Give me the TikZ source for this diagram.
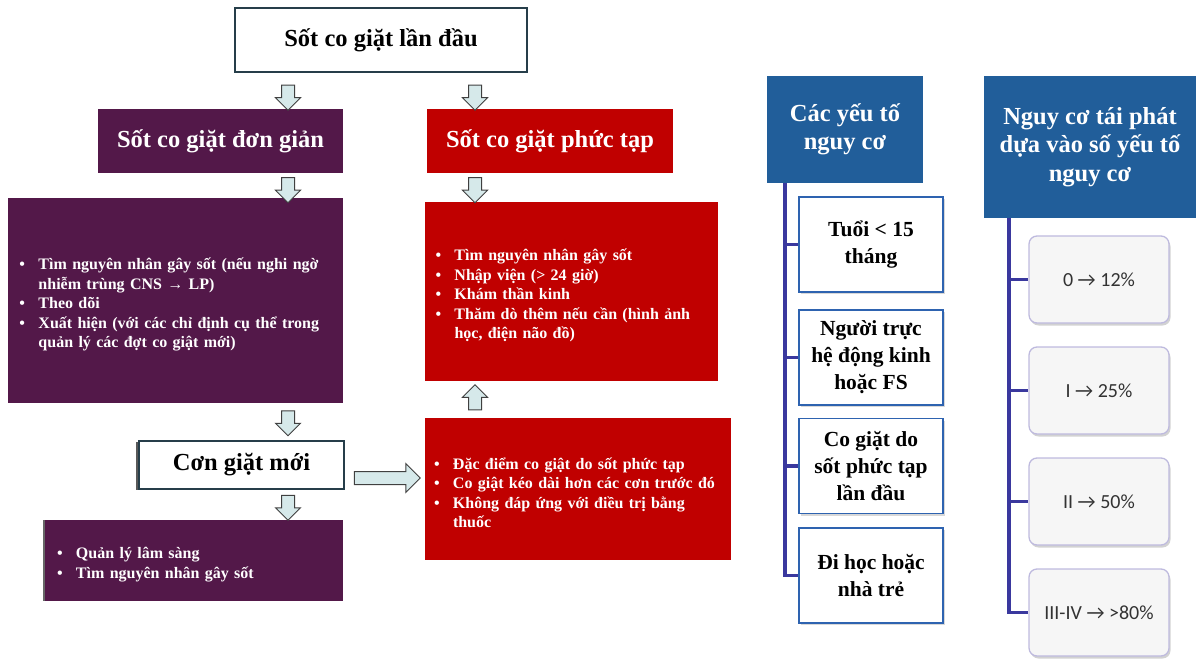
\documentclass[tikz,border=0pt]{standalone}
\usepackage{fontspec}
\setmainfont{Liberation Serif}
\newfontfamily\carlito{Carlito}
\usetikzlibrary{positioning,calc,shapes.arrows,shadows}
\definecolor{fsPurple}{RGB}{83,24,73}
\definecolor{fsRed}{RGB}{192,0,0}
\definecolor{fsSlate}{RGB}{38,62,74}
\definecolor{fsHead}{RGB}{33,94,154}
\definecolor{fsEdge}{RGB}{46,99,176}
\definecolor{fsTrunk}{RGB}{58,56,158}
\definecolor{fsLav}{RGB}{190,186,222}
\definecolor{fsArrow}{RGB}{214,233,234}
\definecolor{fsArrowLine}{RGB}{64,64,64}
\newcommand{\bitem}[1]{\noindent\hangindent=19pt\hangafter=1\makebox[19pt][l]{\textbullet}#1\par}
\tikzset{wbox/.style={draw=fsSlate, line width=1.4pt, fill=white, inner sep=0pt, font=\fontsize{24.5}{28}\selectfont\bfseries}, pbox/.style={fill=fsPurple, text=white, inner sep=0pt, font=\fontsize{24.5}{28}\selectfont\bfseries}, rbox/.style={fill=fsRed, text=white, inner sep=0pt, font=\fontsize{24.5}{28}\selectfont\bfseries}, list/.style={font=\fontsize{16}{19.5}\selectfont\bfseries\raggedright, execute at end node={\vspace*{-8pt}}}, head/.style={fill=fsHead, text=white, align=center, inner sep=0pt, font=\fontsize{24.5}{28.5}\selectfont\bfseries}, fbox/.style={draw=fsEdge, line width=1.3pt, fill=white, align=center, inner sep=0pt, minimum width=144pt, minimum height=95pt, font=\fontsize{21.5}{27}\selectfont\bfseries, drop shadow={shadow xshift=2pt, shadow yshift=-2pt, fill=black!30, opacity=.5}}, gbox/.style={draw=fsLav, line width=1.3pt, fill=gray!7, rounded corners=8pt, inner sep=0pt, minimum width=140pt, minimum height=87pt, font=\carlito\fontsize{20}{22}\selectfont, text=black!80, drop shadow={shadow xshift=1.5pt, shadow yshift=-2.5pt, fill=black!35, opacity=.5}}, trunk/.style={draw=fsTrunk, line width=3.5pt}, darr/.style={single arrow, draw=fsArrowLine, fill=fsArrow, line width=1pt, inner sep=6pt, minimum height=25pt, minimum width=24pt, single arrow head extend=6pt, shape border rotate=270}, uarr/.style={darr, shape border rotate=90}, rarr/.style={single arrow, draw=fsArrowLine, fill=fsArrow, line width=1pt, inner sep=6pt, minimum height=66pt, minimum width=28pt, single arrow head extend=8pt}}

\begin{document}
\begin{tikzpicture}[x=1pt, y=-1pt]
\useasboundingbox (0,0) rectangle (1196,660);
\node[wbox, minimum width=292pt, minimum height=64pt] (first) at (381,40) {Sốt co giặt lần đầu};
\node[pbox, minimum width=245pt, minimum height=64pt] (simple) at (220.5,141) {Sốt co giặt đơn giản};
\node[rbox, minimum width=246pt, minimum height=64pt] (complex) at (550,141) {Sốt co giặt phức tạp};
\node[pbox, list, minimum width=335pt, minimum height=205pt, text width=312pt] (simplecare) at (175.5,300.5) {\bitem{Tìm nguyên nhân gây sốt (nếu nghi ngờ nhiễm trùng CNS → LP)}\bitem{Theo dõi}\bitem{Xuất hiện (với các chỉ định cụ thể trong quản lý các đợt co giật mới)}};
\node[rbox, list, minimum width=293pt, minimum height=179pt, text width=272pt] (complexcare) at (571.5,291.5) {\bitem{Tìm nguyên nhân gây sốt}\bitem{Nhập viện (> 24 giờ)}\bitem{Khám thần kinh}\bitem{Thăm dò thêm nếu cần (hình ảnh học, điện não đồ)}};
\node[rbox, list, minimum width=306pt, minimum height=142pt, text width=288pt] (signs) at (578,489) {\bitem{Đặc điểm co giật do sốt phức tạp}\bitem{Co giật kéo dài hơn các cơn trước đó}\bitem{Không đáp ứng với điều trị bằng thuốc}};
\node[wbox, minimum width=205pt, minimum height=48pt, drop shadow={shadow xshift=-3pt, shadow yshift=-1pt, fill=black!65, opacity=1}] (newfit) at (241.5,465) {Cơn giặt mới};
\node[pbox, list, minimum width=298pt, minimum height=81pt, text width=274pt, drop shadow={shadow xshift=-2pt, shadow yshift=0pt, fill=black!60, opacity=1}] (newcare) at (194,560.5) {\bitem{Quản lý lâm sàng}\bitem{Tìm nguyên nhân gây sốt}};
\node[darr] (a1) at (288,94.5) {};
\node[darr] (a2) at (475,94.5) {};
\node[darr] (a3) at (288,187) {};
\node[darr] (a4) at (475,187) {};
\node[darr] (a5) at (288,420) {};
\node[darr] (a6) at (288,504.5) {};
\node[uarr] (a7) at (475,400.5) {};
\node[rarr] (a8) at (384,478) {};
\node[head, minimum width=156pt, minimum height=107pt] (risk) at (845,129.5) {Các yếu tố\\nguy cơ};
\node[fbox] (r1) at (871,244.5) {Tuổi < 15\\tháng};
\node[fbox] (r2) at (871,357.5) {Người trực\\hệ động kinh\\hoặc FS};
\node[fbox] (r3) at (871,466) {Co giặt do\\sốt phức tạp\\lần đầu};
\node[fbox] (r4) at (871,575.5) {Đi học hoặc\\nhà trẻ};
\coordinate (t1) at (785,183);
\draw[trunk] (t1) |- (r4.west);
\draw[trunk] (t1 |- r1.west) -- (r1.west);
\draw[trunk] (t1 |- r2.west) -- (r2.west);
\draw[trunk] (t1 |- r3.west) -- (r3.west);
\node[head, minimum width=212pt, minimum height=142pt] (recur) at (1090,147) {Nguy cơ tái phát\\dựa vào số yếu tố\\nguy cơ};
\node[gbox] (p1) at (1099,279.5) {0 → 12\%};
\node[gbox] (p2) at (1099,390.5) {I → 25\%};
\node[gbox] (p3) at (1099,501.5) {II → 50\%};
\node[gbox] (p4) at (1099,612.5) {III-IV → >80\%};
\coordinate (t2) at (1009,218);
\draw[trunk] (t2) |- (p4.west);
\draw[trunk] (t2 |- p1.west) -- (p1.west);
\draw[trunk] (t2 |- p2.west) -- (p2.west);
\draw[trunk] (t2 |- p3.west) -- (p3.west);
\end{tikzpicture}
\end{document}
